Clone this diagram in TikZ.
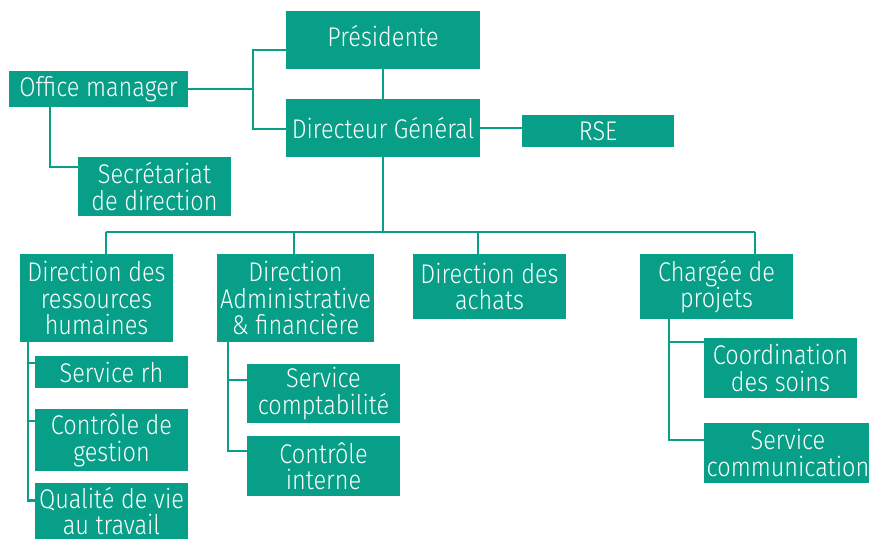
\documentclass[tikz,border=0pt]{standalone}
\usepackage{fontspec}
\setmainfont{Fira Sans}[UprightFont=* Light, FakeStretch=0.87]
\usetikzlibrary{positioning}
\definecolor{orgteal}{RGB}{7,159,135}

\tikzstyle{unit}=[fill=orgteal, text=white, inner sep=0pt, align=center, font=\fontsize{27}{26.5}\selectfont]
\tikzstyle{link}=[draw=orgteal, line width=2.5pt]

\begin{document}
\begin{tikzpicture}[x=1pt, y=-1pt]
\useasboundingbox (0,0) rectangle (869,538);

\node[unit, minimum width=194pt, minimum height=58pt, text depth=8pt](pres) at (383, 40) {Présidente};
\node[unit, minimum width=194pt, minimum height=58pt](dg) at (383, 128) {Directeur Général};
\node[unit, minimum width=179pt, minimum height=36pt](office) at (98.5, 89) {Office manager};
\node[unit, minimum width=153pt, minimum height=59pt](secr) at (154.5, 186.5) {Secrétariat\\de direction};
\node[unit, minimum width=152pt, minimum height=32pt](rse) at (598, 131) {RSE};

\node[unit, minimum width=153pt, minimum height=88pt](drh) at (96.5, 298) {Direction des\\ressources\\humaines};
\node[unit, minimum width=157pt, minimum height=88pt](daf) at (295.5, 298) {Direction\\Administrative\\\& financière};
\node[unit, minimum width=153pt, minimum height=65pt](achats) at (489.5, 286.5) {Direction des\\achats};
\node[unit, minimum width=153pt, minimum height=65pt](cdp) at (716.5, 286.5) {Chargée de\\projets};

\node[unit, minimum width=153pt, minimum height=32pt](srh) at (111.5, 372) {Service rh};
\node[unit, minimum width=153pt, minimum height=62pt](cdg) at (111.5, 440) {Contrôle de\\gestion};
\node[unit, minimum width=153pt, minimum height=56pt](qvt) at (111.5, 511) {Qualité de vie\\au travail};
\node[unit, minimum width=153pt, minimum height=59pt](compta) at (323.5, 393.5) {Service\\comptabilité};
\node[unit, minimum width=153pt, minimum height=60pt](ci) at (323.5, 466) {Contrôle\\interne};
\node[unit, minimum width=153pt, minimum height=60pt](coord) at (780.5, 368) {Coordination\\des soins};
\node[unit, minimum width=168pt, minimum height=60pt](comm) at (788, 453) {Service\\communication};

\coordinate (jo) at (253, 89);
\coordinate (busL) at (106, 232);
\coordinate (busDaf) at (294, 232);
\coordinate (busAch) at (478, 232);
\coordinate (busR) at (755, 232);

\begin{scope}[every path/.style={link}]
       \draw (office.east) -- (jo);
       \draw (jo) |- ([yshift=-10pt]pres.west);
       \draw (jo) |- ([yshift=-1pt]dg.west);
       \draw (pres.south) -- (dg.north);
       \draw (dg.east) -- (dg.east -| rse.west);
       \draw ([xshift=41pt]office.south west) |- ([yshift=19.5pt]secr.west);

       \draw (dg.south) -- (dg.south |- busL);
       \draw (busL) -- (busR);
       \draw (busL) -- (busL |- drh.north);
       \draw (busDaf) -- (busDaf |- daf.north);
       \draw (busAch) -- (busAch |- achats.north);
       \draw (busR) -- (busR |- cdp.north);

       \draw ([xshift=8pt]drh.south west) |- ([yshift=10.5pt]qvt.west);
       \draw ([xshift=8pt]drh.south west |- srh.west) ++(0,-9) -- ([yshift=9pt]srh.west);
       \draw ([xshift=8pt]drh.south west |- cdg.west) ++(0,-19) -- ([yshift=19pt]cdg.west);

       \draw ([xshift=11pt]daf.south west) |- ([yshift=15pt]ci.west);
       \draw ([xshift=11pt]daf.south west |- compta.west) ++(0,-13.5) -- ([yshift=13.5pt]compta.west);

       \draw ([xshift=29pt]cdp.south west) |- ([yshift=13pt]comm.west);
       \draw ([xshift=29pt]cdp.south west |- coord.west) ++(0,-26) -- ([yshift=26pt]coord.west);
\end{scope}
\end{tikzpicture}
\end{document}
